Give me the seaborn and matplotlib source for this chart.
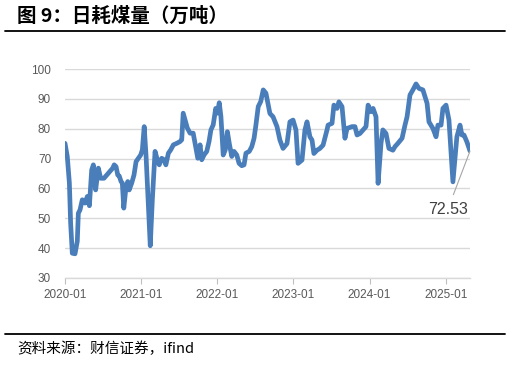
import matplotlib
matplotlib.use("Agg")
import matplotlib.pyplot as plt
import matplotlib.dates as mdates
from matplotlib.lines import Line2D
import seaborn as sns
import pandas as pd

# ---- data ----
dates = [
    "2020-01-01", "2020-01-12", "2020-01-22", "2020-01-28", "2020-02-05", "2020-02-18", "2020-02-29",
    "2020-03-05", "2020-03-13", "2020-03-24", "2020-04-06", "2020-04-17", "2020-04-27", "2020-05-08",
    "2020-05-16", "2020-05-27", "2020-06-09", "2020-06-20", "2020-07-06", "2020-07-27", "2020-08-17",
    "2020-08-24", "2020-09-02", "2020-09-10", "2020-09-17", "2020-09-26", "2020-10-02", "2020-10-09",
    "2020-10-20", "2020-10-28", "2020-11-04", "2020-11-16", "2020-11-27", "2020-12-07", "2020-12-18",
    "2020-12-29", "2021-01-06", "2021-01-15", "2021-01-24", "2021-02-04", "2021-02-13", "2021-02-23",
    "2021-03-08", "2021-03-19", "2021-03-28", "2021-04-09", "2021-04-20", "2021-04-29", "2021-05-11",
    "2021-05-22", "2021-06-04", "2021-06-20", "2021-07-06", "2021-07-14", "2021-07-21", "2021-07-30",
    "2021-08-10", "2021-08-23", "2021-09-07", "2021-09-19", "2021-09-29", "2021-10-10", "2021-10-18",
    "2021-10-29", "2021-11-11", "2021-11-22", "2021-12-01", "2021-12-12", "2021-12-24", "2022-01-01",
    "2022-01-10", "2022-01-18", "2022-01-29", "2022-02-08", "2022-02-18", "2022-02-27", "2022-03-11",
    "2022-03-22", "2022-04-04", "2022-04-15", "2022-04-28", "2022-05-09", "2022-05-18", "2022-06-03",
    "2022-06-15", "2022-06-26", "2022-07-05", "2022-07-16", "2022-07-28", "2022-08-09", "2022-08-22",
    "2022-09-02", "2022-09-10", "2022-09-25", "2022-10-14", "2022-10-28", "2022-11-12", "2022-12-01",
    "2022-12-15", "2022-12-30", "2023-01-13", "2023-01-23", "2023-02-11", "2023-02-25", "2023-03-07",
    "2023-03-21", "2023-03-31", "2023-04-09", "2023-04-24", "2023-05-08", "2023-05-23", "2023-06-11",
    "2023-06-16", "2023-07-05", "2023-07-14", "2023-07-29", "2023-08-07", "2023-08-22", "2023-09-05",
    "2023-09-15", "2023-10-09", "2023-10-23", "2023-11-02", "2023-11-16", "2023-12-01", "2023-12-15",
    "2023-12-25", "2024-01-08", "2024-01-18", "2024-02-01", "2024-02-11", "2024-02-25", "2024-03-05",
    "2024-03-20", "2024-04-03", "2024-04-22", "2024-05-02", "2024-05-16", "2024-06-05", "2024-06-19",
    "2024-06-29", "2024-07-13", "2024-07-27", "2024-08-11", "2024-08-25", "2024-09-13", "2024-10-03",
    "2024-10-12", "2024-10-31", "2024-11-15", "2024-11-24", "2024-12-09", "2024-12-18", "2025-01-02",
    "2025-01-16", "2025-02-04", "2025-02-23", "2025-03-10", "2025-03-19", "2025-03-29", "2025-04-12",
    "2025-04-27",
]
values = [
    75.1, 70.7, 61.8, 48.4, 38.3, 38.1, 42.3,
    51.7, 52.8, 56.2, 55.1, 57.3, 54.2, 66.2,
    67.9, 59.5, 66.8, 63.4, 63.4, 65.1, 66.8,
    67.9, 67.3, 64.5, 64.2, 62.3, 61.8, 53.4,
    60.6, 62.3, 59.5, 61.8, 64.5, 69.0, 70.1,
    71.2, 72.9, 80.7, 70.7, 54.0, 40.8, 56.2,
    72.4, 69.6, 67.9, 70.1, 69.6, 67.9, 71.8,
    72.9, 74.6, 75.1, 75.7, 76.3, 85.2, 82.9,
    80.2, 78.5, 78.5, 74.0, 70.1, 74.6, 69.6,
    71.2, 72.4, 75.7, 79.6, 81.3, 86.8, 85.2,
    88.7, 84.1, 71.2, 72.9, 79.0, 75.1, 70.7,
    72.4, 71.2, 68.4, 67.6, 67.9, 71.8, 72.4,
    74.0, 76.8, 81.3, 87.4, 89.1, 93.0, 91.9,
    88.0, 85.1, 84.0, 80.7, 76.2, 73.4, 75.0,
    82.3, 82.9, 79.6, 68.4, 69.5, 79.6, 82.3,
    77.3, 76.2, 71.7, 72.8, 73.4, 74.5, 79.6,
    81.2, 81.8, 87.9, 86.8, 89.0, 87.4, 76.8,
    80.1, 80.7, 80.7, 77.9, 78.4, 79.6, 80.7,
    87.9, 85.7, 86.8, 84.0, 61.7, 75.1, 79.6,
    78.4, 73.4, 72.8, 74.0, 75.1, 76.8, 81.2,
    84.0, 91.3, 93.0, 95.0, 93.5, 93.0, 88.5,
    82.3, 80.1, 77.3, 81.2, 81.2, 86.8, 87.9,
    82.9, 62.2, 77.3, 81.2, 77.9, 77.9, 75.6,
    72.53,
]
y_ticks = [30, 40, 50, 60, 70, 80, 90, 100]
title = "图 9：日耗煤量（万吨）"
source = "资料来源：财信证券，ifind"
last_label = "72.53"

df = pd.DataFrame({"date": pd.to_datetime(dates), "value": values})

sns.set_theme(style="white")
plt.rcParams["font.family"] = ["Liberation Sans", "Noto Sans CJK SC", "DejaVu Sans"]

fig = plt.figure(figsize=(5.11, 3.68), dpi=100)
ax = fig.add_axes([0.1272, 0.2446, 0.7926, 0.5679])

sns.lineplot(data=df, x="date", y="value", ax=ax, color="#4a7ebb", linewidth=3.4,
             solid_joinstyle="round", solid_capstyle="round")

ax.set_ylim(30, 100)
ax.set_yticks(y_ticks)
ax.set_xlim(df["date"].iloc[0], df["date"].iloc[-1])
ax.xaxis.set_major_locator(mdates.YearLocator())
ax.xaxis.set_major_formatter(mdates.DateFormatter("%Y-%m"))
ax.set_xlabel("")
ax.set_ylabel("")
ax.grid(axis="y", color="#d9d9d9", linewidth=1.0)
ax.grid(axis="x", visible=False)
ax.set_axisbelow(True)
for s in ["top", "right", "left"]:
    ax.spines[s].set_visible(False)
ax.spines["bottom"].set_color("#d9d9d9")
ax.spines["bottom"].set_linewidth(1.0)
ax.tick_params(axis="y", length=0, pad=10, labelsize=8.5, labelcolor="#595959")
ax.tick_params(axis="x", length=4, width=0.8, color="#bfbfbf", direction="out", bottom=True,
               pad=4, labelsize=8.5, labelcolor="#595959")

ax.annotate(last_label, xy=(df["date"].iloc[-1], values[-1]), xytext=(-16, -42),
            textcoords="offset points", ha="center", va="center", fontsize=11.5,
            color="#404040",
            arrowprops=dict(arrowstyle="-", color="#a6a6a6", lw=0.8, shrinkA=3, shrinkB=0))

fig.text(0.034, 0.9565, title, ha="left", va="center", fontsize=14, fontweight="bold",
         family=["Noto Sans CJK SC", "DejaVu Sans"], color="black")
fig.text(0.034, 0.053, source, ha="left", va="center", fontsize=10.5,
         family=["Noto Sans CJK SC", "DejaVu Sans"], color="black", style="italic")

fig.add_artist(Line2D([0.0098, 0.9883], [0.9158, 0.9158], transform=fig.transFigure,
                      color="black", linewidth=1.3))
fig.add_artist(Line2D([0.0098, 0.9883], [0.0924, 0.0924], transform=fig.transFigure,
                      color="black", linewidth=1.3))

fig.savefig("out.png", dpi=100)
